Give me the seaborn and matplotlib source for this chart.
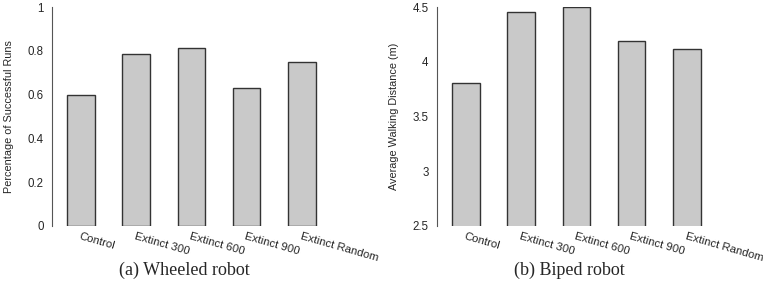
import pandas as pd
import matplotlib.pyplot as plt
import seaborn as sns

categories = ["Control", "Extinct 300", "Extinct 600", "Extinct 900", "Extinct Random"]
wheeled_success = [0.60, 0.784, 0.814, 0.632, 0.749]
biped_distance = [3.81, 4.45, 4.50, 4.19, 4.12]

df_a = pd.DataFrame({"cond": categories, "val": wheeled_success})
df_b = pd.DataFrame({"cond": categories, "val": biped_distance})

sns.set_style("white")
plt.rcParams["font.family"] = ["Liberation Sans", "DejaVu Sans"]

fig = plt.figure(figsize=(7.63, 2.85), dpi=100)
ax1 = fig.add_axes([52 / 763, 1 - 226 / 285, 282 / 763, 219 / 285])
ax2 = fig.add_axes([437 / 763, 1 - 226 / 285, 282 / 763, 219 / 285])

panels = [
    (ax1, df_a, (0, 1), [0, 0.2, 0.4, 0.6, 0.8, 1], ["0", "0.2", "0.4", "0.6", "0.8", "1"],
     "Percentage of Successful Runs", "(a) Wheeled robot"),
    (ax2, df_b, (2.5, 4.5), [2.5, 3, 3.5, 4, 4.5], ["2.5", "3", "3.5", "4", "4.5"],
     "Average Walking Distance (m)", "(b) Biped robot"),
]

for ax, d, ylim, yt, ytl, ylab, cap in panels:
    sns.barplot(data=d, x="cond", y="val", ax=ax, color="#c9c9c9",
                edgecolor="#333333", linewidth=1.0, width=0.5, saturation=1)
    ax.set_ylim(*ylim)
    ax.set_xlim(-0.52, 4.58)
    ax.set_yticks(yt)
    ax.set_yticklabels(ytl, fontsize=8.3)
    ax.set_xticks(range(len(categories)))
    ax.set_xticklabels(categories, rotation=-16, ha="left", rotation_mode="anchor", fontsize=8.2)
    ax.tick_params(axis="y", direction="in", length=3, width=0.6, color="#555555", pad=6)
    ax.tick_params(axis="x", length=0, pad=4)
    ax.set_xlabel("")
    ax.set_ylabel(ylab, fontsize=7.8, labelpad=10)
    for s in ["top", "right", "bottom"]:
        ax.spines[s].set_visible(False)
    ax.spines["left"].set_color("#555555")
    ax.spines["left"].set_linewidth(0.8)
    ax.text(0.47, -0.165, cap, transform=ax.transAxes, ha="center", va="top",
            fontsize=13, family=["Liberation Serif", "DejaVu Serif"])

fig.savefig("out.png", dpi=100)
